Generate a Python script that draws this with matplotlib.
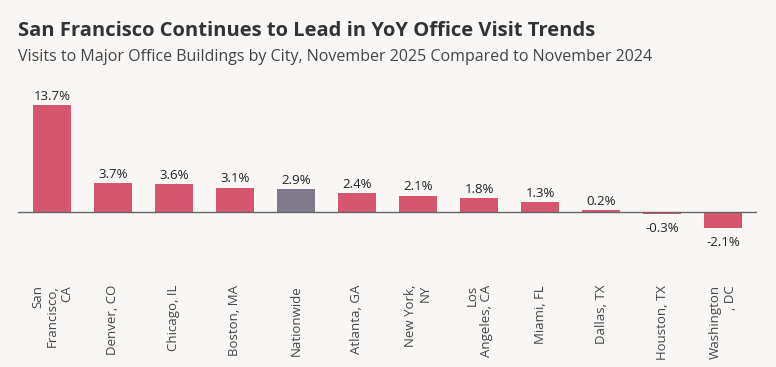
import matplotlib
matplotlib.use("Agg")
import matplotlib.pyplot as plt

plt.rcParams["font.family"] = ["Open Sans", "DejaVu Sans"]

BG = "#F9F7F5"
PINK = "#D4566F"
GRAYBAR = "#7F7A8C"

cities = ["San\nFrancisco,\nCA", "Denver, CO", "Chicago, IL", "Boston, MA", "Nationwide",
          "Atlanta, GA", "New York,\nNY", "Los\nAngeles, CA", "Miami, FL", "Dallas, TX",
          "Houston, TX", "Washington\n, DC"]
yoy = [13.7, 3.7, 3.6, 3.1, 2.9, 2.4, 2.1, 1.8, 1.3, 0.2, -0.3, -2.1]
colors = [GRAYBAR if c == "Nationwide" else PINK for c in cities]

fig = plt.figure(figsize=(7.76, 3.67), dpi=100, facecolor=BG)
ax = fig.add_axes([18 / 776, 1 - 240 / 367, 739 / 776, 150 / 367])
ax.set_facecolor(BG)

x = range(len(cities))
ax.bar(x, yoy, width=0.62, color=colors, zorder=2)
ax.axhline(0, color="#666666", linewidth=1, zorder=3)

for i, v in enumerate(yoy):
    if v >= 0:
        ax.text(i, v + 0.3, f"{v:.1f}%", ha="center", va="bottom", fontsize=9.5, color="#222222")
    else:
        ax.text(i, v - 1.0, f"{v:.1f}%", ha="center", va="top", fontsize=9.5, color="#222222")

ax.set_xlim(-0.557, 11.557)
ax.set_ylim(-3.585, 15.62)
ax.set_xticks([])
ax.set_yticks([])
for s in ax.spines.values():
    s.set_visible(False)

# category labels, rotated and hanging below the axes
for i, c in enumerate(cities):
    ax.annotate(c, xy=(i, 0), xycoords=("data", "axes fraction"),
                xytext=(0, -45), textcoords="offset pixels",
                rotation=90, ha="center", va="top", multialignment="right",
                fontsize=9.5, color="#444444", linespacing=1.15)

fig.text(18 / 776, 1 - 31 / 367, "San Francisco Continues to Lead in YoY Office Visit Trends",
         fontsize=14.5, fontweight="bold", color="#333333", va="center")
fig.text(18 / 776, 1 - 57 / 367,
         "Visits to Major Office Buildings by City, November 2025 Compared to November 2024",
         fontsize=11.5, color="#444444", va="center")

fig.savefig("out.png", dpi=100, facecolor=BG)
